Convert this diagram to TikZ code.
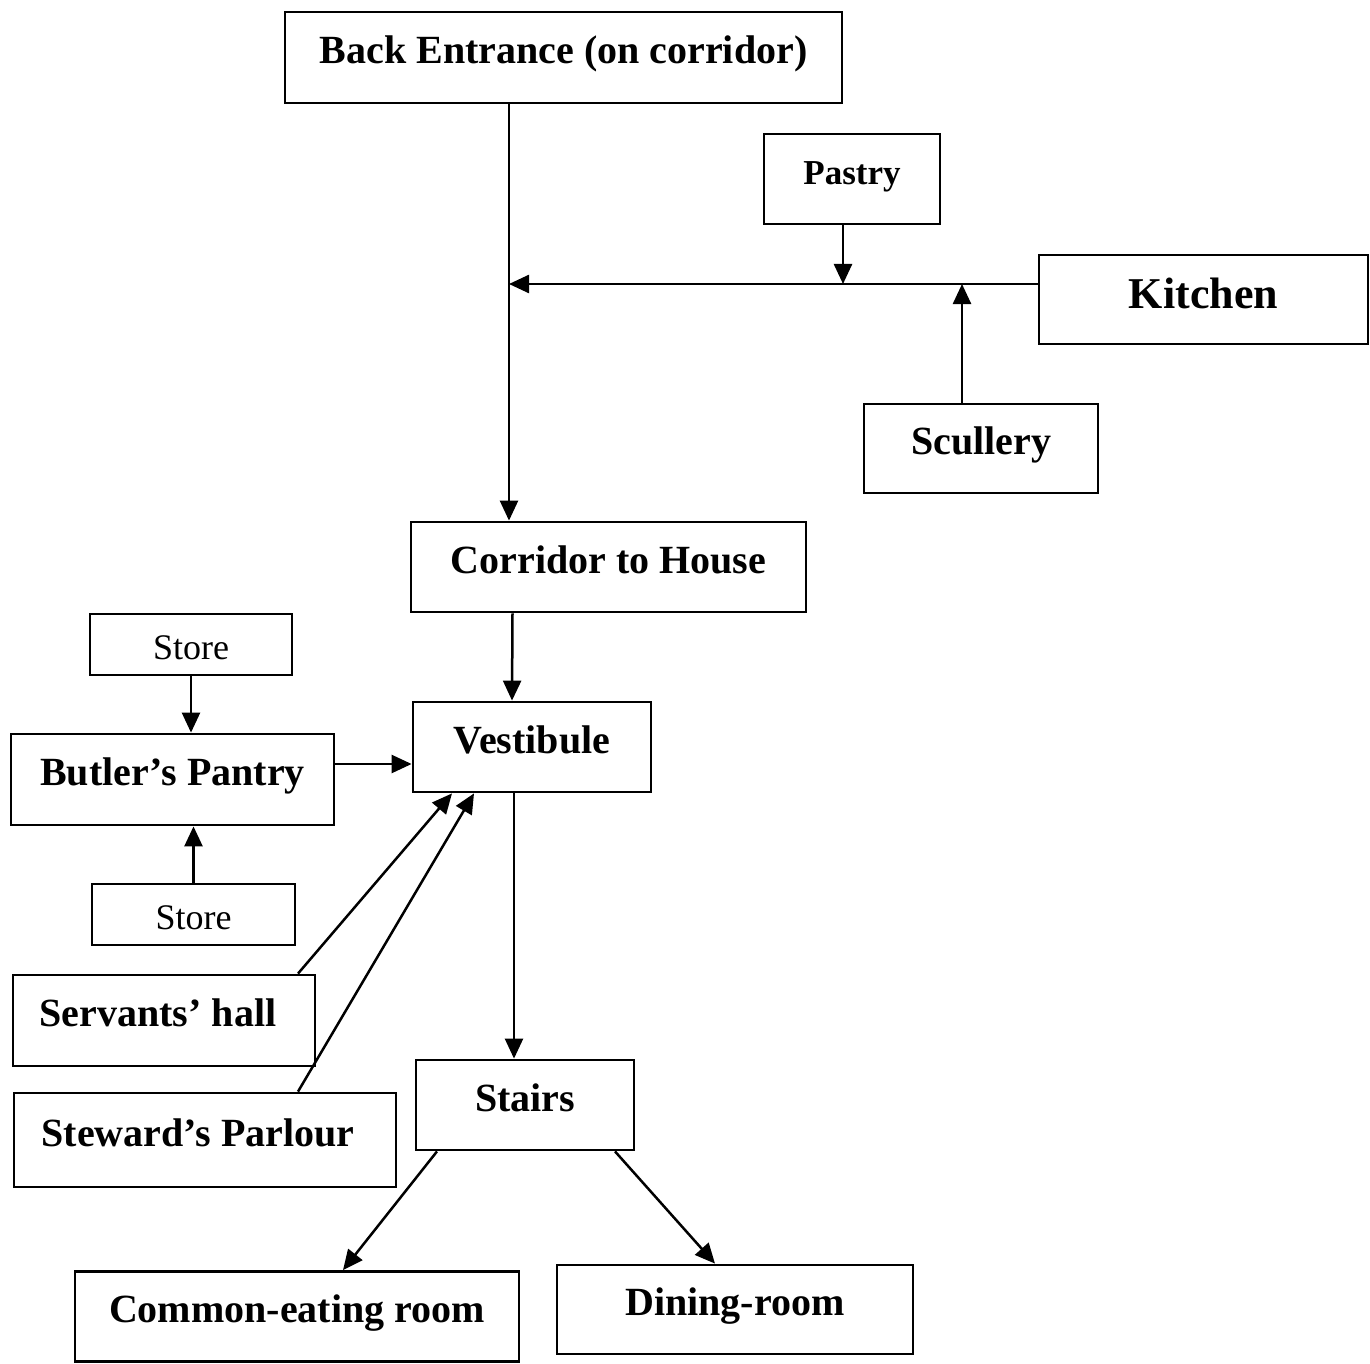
\documentclass[tikz,border=0pt]{standalone}
\usepackage{fontspec}
\setmainfont{Liberation Serif}
\usetikzlibrary{arrows.meta}
\tikzset{
  box/.style={draw, line width=1.4pt, inner sep=0pt, text height=14pt, text depth=8pt,
    font=\bfseries\fontsize{20}{24}\selectfont},
  storebox/.style={box, text height=15pt, text depth=0pt, font=\fontsize{18}{22}\selectfont},
  arr/.style={-{Triangle[length=10pt,width=9pt]}, line width=1.25pt},
}
\begin{document}
\begin{tikzpicture}[x=0.5pt,y=-0.5pt]
\useasboundingbox (0,0) rectangle (1370,1364);
\node[box, minimum width=278.5pt, minimum height=45.5pt] (be) at (563.5,57.5) {Back Entrance (on corridor)};
\node[box, minimum width=88pt, minimum height=45pt, font=\bfseries\fontsize{17.5}{20}\selectfont] (pastry) at (852,179) {Pastry};
\node[box, minimum width=164.5pt, minimum height=44.5pt, text height=15pt, text depth=6pt, font=\bfseries\fontsize{22}{26}\selectfont] (kitchen) at (1203.5,299.5) {Kitchen};
\node[box, minimum width=117pt, minimum height=44.5pt] (scullery) at (981,448.5) {Scullery};
\node[box, minimum width=197.5pt, minimum height=45pt] (corridor) at (608.5,567) {Corridor to House};
\node[storebox, minimum width=101pt, minimum height=30.5pt] (store1) at (191,644.5) {Store};
\node[box, minimum width=119pt, minimum height=45pt] (vest) at (532,747) {Vestibule};
\node[box, minimum width=161.5pt, minimum height=45.5pt] (butler) at (172.5,779.5) {Butler’s Pantry};
\node[storebox, minimum width=101.5pt, minimum height=30.5pt] (store2) at (193.5,914.5) {Store};
\node[box, minimum width=151pt, minimum height=45.5pt] (servants) at (164,1020.5) {Servants’ hall\hspace*{6pt}};
\node[box, minimum width=191pt, minimum height=47pt] (steward) at (205,1140) {Steward’s Parlour\hspace*{7pt}};
\node[box, minimum width=109pt, minimum height=45pt] (stairs) at (525,1105) {Stairs};
\node[box, minimum width=222pt, minimum height=45pt] (common) at (297,1316.5) {Common-eating room};
\node[box, minimum width=178pt, minimum height=44.5pt] (dining) at (735,1309.5) {Dining-room};

\coordinate (j) at (509,284);
\coordinate (pj) at (843,284);
\coordinate (sj) at (962,284);

\draw[arr] (be.south -| j) -- (corridor.north -| j);
\draw[arr] (kitchen.west |- j) -- (j);
\draw[arr] (pastry.south -| pj) -- (pj);
\draw[arr] (scullery.north -| sj) -- (sj);
\draw[arr] ([xshift=-48pt]corridor.south) -- ([xshift=-10pt]vest.north);
\draw[arr] (store1.south) -- (store1.south |- butler.north);
\draw[arr] ([yshift=7.75pt]butler.east) -- ([yshift=7.75pt]butler.east -| vest.west);
\draw[arr] (store2.north) -- (store2.north |- butler.south);
\draw[arr] ([xshift=67pt]servants.north) -- ([xshift=-40pt]vest.south);
\draw[arr] ([xshift=46.5pt]steward.north) -- ([xshift=-29pt]vest.south);
\draw[arr] ([xshift=-9pt]vest.south) -- ([xshift=-5.5pt]stairs.north);
\draw[arr] ([xshift=-44pt]stairs.south) -- ([xshift=23pt]common.north);
\draw[arr] ([xshift=45pt]stairs.south) -- ([xshift=-10pt]dining.north);
\end{tikzpicture}
\end{document}
